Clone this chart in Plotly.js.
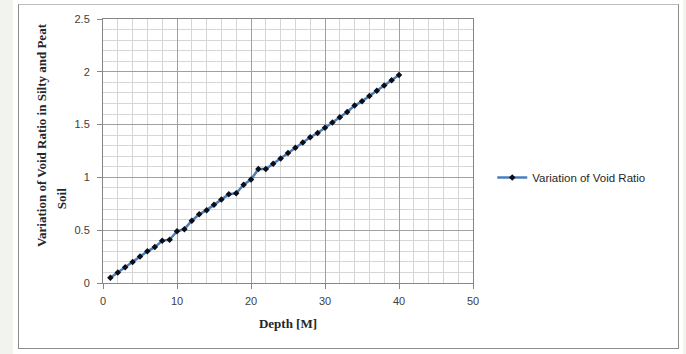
<!DOCTYPE html>
<html>
<head>
<meta charset="utf-8">
<script src="https://cdn.plot.ly/plotly-3.0.1.min.js"></script>
<style>
html,body{margin:0;padding:0;background:#fff;width:686px;height:354px;overflow:hidden;}
#lstrip{position:absolute;left:0;top:0;width:13px;height:354px;background:#f2f2ee;}
#rstrip{position:absolute;left:683px;top:0;width:3px;height:354px;background:#f2f2ee;}
#box{position:absolute;left:18px;top:4px;width:659px;height:343px;border:1px solid #8c8c8c;border-top-color:#bdbdbd;}
#chart{position:absolute;left:0;top:0;width:686px;height:354px;}
</style>
</head>
<body>
<div id="lstrip"></div><div id="rstrip"></div><div id="box"></div>
<div id="chart"></div>
<script>
const depth = [1,2,3,4,5,6,7,8,9,10,11,12,13,14,15,16,17,18,19,20,21,22,23,24,25,26,27,28,29,30,31,32,33,34,35,36,37,38,39,40];
const voidRatio = [0.05,0.10,0.15,0.20,0.25,0.30,0.34,0.40,0.41,0.49,0.51,0.59,0.65,0.69,0.74,0.79,0.84,0.85,0.93,0.98,1.08,1.08,1.13,1.18,1.23,1.28,1.33,1.38,1.42,1.47,1.52,1.57,1.62,1.68,1.72,1.77,1.82,1.87,1.92,1.97];
const seriesName = "Variation of Void Ratio";
const xTitle = "Depth [M]";
const yTitle1 = "Variation of Void Ratio in Silty and Peat";
const yTitle2 = "Soil";

const tickFont = {family: "Liberation Sans, Arial, sans-serif", size: 11, color: "#404040"};
const titleFont = {family: "Liberation Serif, Times New Roman, serif", size: 13, color: "#262626"};

const trace = {
  x: depth, y: voidRatio, name: seriesName, type: "scatter", mode: "lines+markers",
  line: {color: "#4a7ebb", width: 2.5},
  marker: {symbol: "diamond", size: 5, color: "#0d0d1a"}
};

const layout = {
  width: 686, height: 354,
  margin: {l: 103.3, r: 212.5, t: 19.2, b: 71.3},
  paper_bgcolor: "rgba(0,0,0,0)", plot_bgcolor: "#ffffff",
  showlegend: true,
  legend: {x: 1.052, y: 0.40, xanchor: "left", yanchor: "middle",
           font: {family: "Liberation Sans, Arial, sans-serif", size: 11.5, color: "#262626"},
           bgcolor: "rgba(0,0,0,0)"},
  xaxis: {
    range: [0, 50], dtick: 10, tick0: 0, showgrid: true, gridcolor: "#a0a0a0", gridwidth: 1,
    minor: {dtick: 2, showgrid: true, gridcolor: "#d6d6d6", gridwidth: 1},
    showline: true, linecolor: "#868686", linewidth: 1, mirror: true,
    ticks: "outside", ticklen: 5, tickcolor: "#868686", zeroline: false,
    ticklabelstandoff: 3,
    tickfont: tickFont, fixedrange: true,
    title: {text: "<b>" + xTitle + "</b>", font: titleFont, standoff: 12}
  },
  yaxis: {
    range: [0, 2.5], dtick: 0.5, tick0: 0, showgrid: true, gridcolor: "#a0a0a0", gridwidth: 1,
    minor: {dtick: 0.1, showgrid: true, gridcolor: "#d6d6d6", gridwidth: 1},
    showline: true, linecolor: "#868686", linewidth: 1, mirror: true,
    ticks: "outside", ticklen: 5, tickcolor: "#868686", zeroline: false,
    ticklabelstandoff: 5,
    tickfont: tickFont, fixedrange: true
  },
  annotations: [
    {text: "<b>" + yTitle1 + "</b>", xref: "paper", yref: "paper", textangle: -90,
     x: (42 - 103.3) / 370.2, y: (283 - 135.5) / 263.8, xanchor: "center", yanchor: "middle",
     showarrow: false, font: titleFont},
    {text: "<b>" + yTitle2 + "</b>", xref: "paper", yref: "paper", textangle: -90,
     x: (62 - 103.3) / 370.2, y: (283 - 198.5) / 263.8, xanchor: "center", yanchor: "middle",
     showarrow: false, font: titleFont}
  ]
};

Plotly.newPlot("chart", [trace], layout, {displayModeBar: false, staticPlot: true});
</script>
</body>
</html>
